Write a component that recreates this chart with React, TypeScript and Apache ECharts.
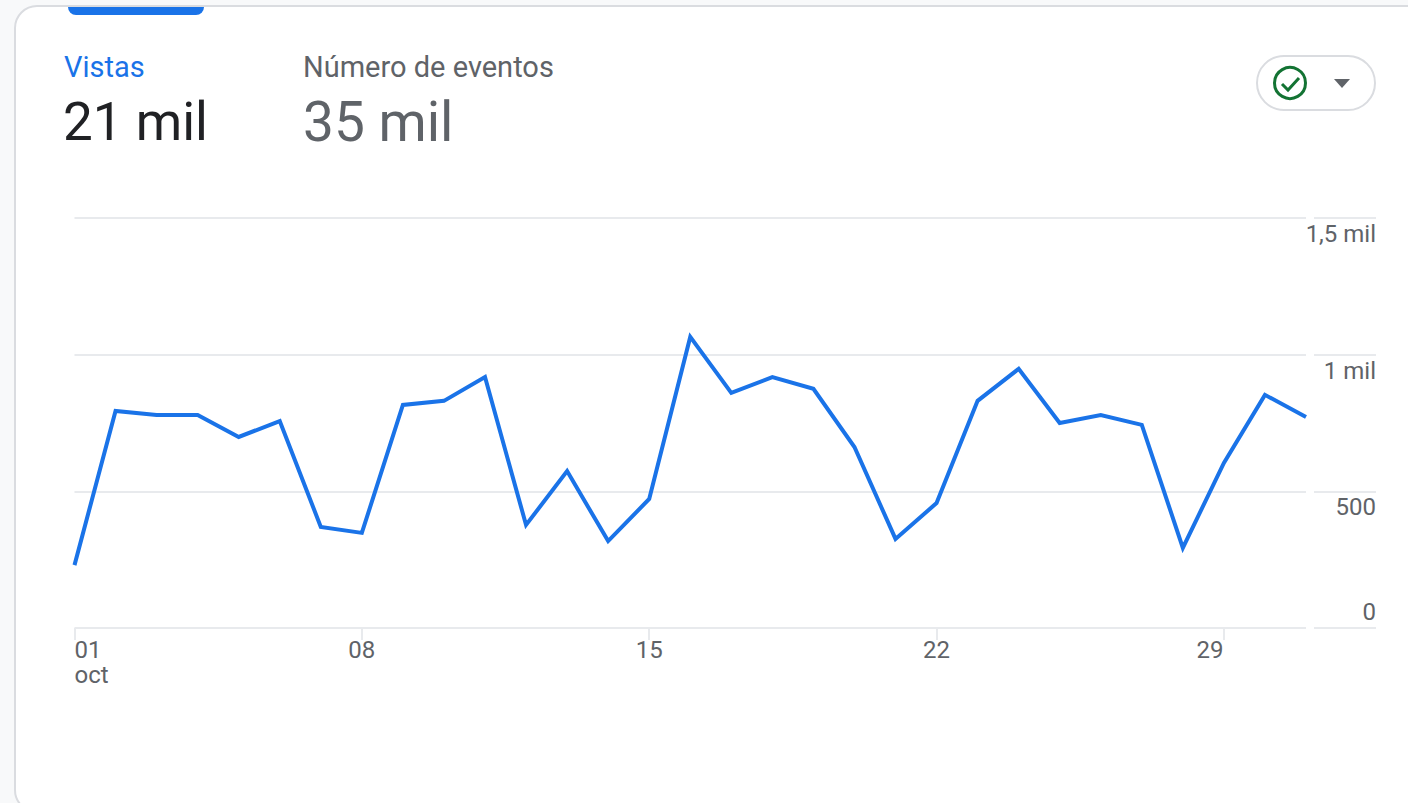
import React, { useEffect, useRef } from "react";
import * as echarts from "echarts";

const days = ["01","02","03","04","05","06","07","08","09","10","11","12","13","14","15","16","17","18","19","20","21","22","23","24","25","26","27","28","29","30","31"];
const vistas = [230,794,779,779,699,757,370,348,816,831,918,377,574,318,472,1065,860,918,875,662,326,457,831,948,750,779,743,293,604,853,772];
const yTickLabels: Record<string, string> = { "0": "0", "500": "500", "1000": "1 mil", "1500": "1,5 mil" };
const metricNames = ["Vistas", "Número de eventos"];
const metricTotals = ["21 mil", "35 mil"];

const BLUE = "#1a73e8";
const GREY = "#5f6368";
const LINE = "#e8eaed";
const BORDER = "#dadce0";
const GREEN = "#137333";
const FONT = "Roboto";

const splitLine = { show: true, lineStyle: { color: LINE, width: 2 } };

export default function App() {
  const ref = useRef<HTMLDivElement>(null);
  useEffect(() => {
    document.body.style.margin = "0";
    const chart = echarts.init(ref.current!, null, { renderer: "svg" });
    chart.setOption({
      animation: false,
      backgroundColor: "#f8f9fa",
      textStyle: { fontFamily: FONT },
      grid: [
        { left: 74.5, top: 218, width: 1231.5, height: 410 },
        { left: 1314, top: 218, width: 62, height: 410 },
      ],
      xAxis: [
        {
          type: "category",
          gridIndex: 0,
          data: days,
          boundaryGap: false,
          axisLine: { show: false },
          axisTick: {
            show: true,
            length: 12,
            interval: (i: number) => i % 7 === 0,
            lineStyle: { color: LINE, width: 2 },
          },
          axisLabel: {
            show: true,
            interval: (i: number) => i % 7 === 0,
            alignMinLabel: "left",
            margin: 9,
            color: GREY,
            fontSize: 24,
            fontFamily: FONT,
            formatter: (v: string, i: number) =>
              i === 0 ? "{t|" + v + "}\n{t|oct}" : i === 28 ? "{r|" + v + "}" : "{t|" + v + "}",
            rich: {
              t: { fontSize: 24, lineHeight: 25, color: GREY, fontFamily: FONT },
              r: { fontSize: 24, lineHeight: 25, color: GREY, fontFamily: FONT, padding: [0, 28, 0, 0] },
            },
          },
        },
        { type: "value", gridIndex: 1, min: 0, max: 1, show: false },
      ],
      yAxis: [
        {
          type: "value",
          gridIndex: 0,
          min: 0,
          max: 1500,
          interval: 500,
          axisLine: { show: false },
          axisTick: { show: false },
          axisLabel: { show: false },
          splitLine,
        },
        {
          type: "value",
          gridIndex: 1,
          position: "right",
          min: 0,
          max: 1500,
          interval: 500,
          axisLine: { show: false },
          axisTick: { show: false },
          splitLine,
          axisLabel: {
            show: true,
            inside: true,
            margin: 0,
            showMinLabel: true,
            showMaxLabel: true,
            formatter: (v: number) =>
              v === 0 ? "{up|" + yTickLabels[String(v)] + "}" : "{down|" + yTickLabels[String(v)] + "}",
            rich: {
              up: { fontSize: 24, color: GREY, fontFamily: FONT, padding: [0, 0, 32, 0] },
              down: { fontSize: 24, color: GREY, fontFamily: FONT, padding: [32, 0, 0, 0] },
            },
          },
        },
      ],
      series: [
        {
          name: metricNames[0],
          type: "line",
          xAxisIndex: 0,
          yAxisIndex: 0,
          data: vistas,
          symbol: "none",
          silent: true,
          lineStyle: { color: BLUE, width: 4, join: "miter" },
        },
      ],
      graphic: [
        {
          type: "rect", z: -10, silent: true,
          shape: { x: 15, y: 6, width: 1420, height: 806, r: 22 },
          style: { fill: "#fff", stroke: BORDER, lineWidth: 2 },
        },
        {
          type: "rect", z: -5, silent: true,
          shape: { x: 68, y: 7, width: 136, height: 8, r: [0, 0, 8, 8] },
          style: { fill: BLUE },
        },
        { type: "text", x: 64, y: 67, style: { text: metricNames[0], fill: BLUE, font: "29px " + FONT, textVerticalAlign: "middle" } },
        { type: "text", x: 303, y: 67, style: { text: metricNames[1], fill: GREY, font: "29px " + FONT, textVerticalAlign: "middle" } },
        { type: "text", x: 63, y: 122, style: { text: metricTotals[0], fill: "#202124", font: "53px " + FONT, textVerticalAlign: "middle" } },
        { type: "text", x: 303, y: 122, style: { text: metricTotals[1], fill: GREY, font: "55px " + FONT, textVerticalAlign: "middle" } },
        {
          type: "rect", silent: true,
          shape: { x: 1257, y: 56, width: 118, height: 54, r: 27 },
          style: { fill: "#fff", stroke: BORDER, lineWidth: 2 },
        },
        {
          type: "circle", silent: true,
          shape: { cx: 1290, cy: 83, r: 15.5 },
          style: { fill: "none", stroke: GREEN, lineWidth: 3 },
        },
        {
          type: "polyline", silent: true,
          shape: { points: [[1282, 84], [1288, 90], [1299, 78]] },
          style: { fill: "none", stroke: GREEN, lineWidth: 3 },
        },
        {
          type: "polygon", silent: true,
          shape: { points: [[1334, 79], [1350, 79], [1342, 88]] },
          style: { fill: GREY },
        },
      ],
    });
    return () => chart.dispose();
  }, []);
  return <div ref={ref} style={{ position: "absolute", left: 0, top: 0, width: 1408, height: 803 }} />;
}
